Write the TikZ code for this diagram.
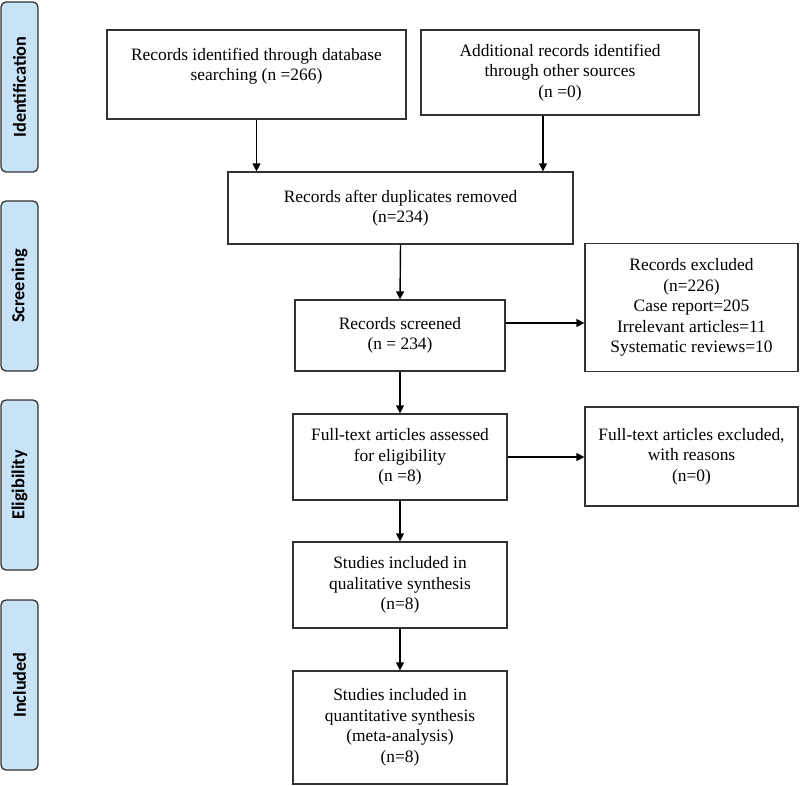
\documentclass[tikz,border=0pt]{standalone}
\usepackage{fontspec}
\setmainfont{Liberation Serif}
\newfontfamily\stagefont{Carlito}
\usetikzlibrary{arrows.meta,positioning,calc}
\definecolor{stageblue}{RGB}{200,226,246}
\definecolor{edgegray}{RGB}{50,50,50}

\begin{document}
\begin{tikzpicture}[x=1pt, y=-1pt,
  box/.style={draw=edgegray, line width=1.3pt, align=center, inner sep=2pt, font=\fontsize{17.4}{20.5}\selectfont},
  stage/.style={draw=edgegray, fill=stageblue, line width=1.3pt, rounded corners=5pt, minimum width=170pt, minimum height=37pt, rotate=90, font=\stagefont\bfseries\fontsize{18.3}{20}\selectfont},
  arr/.style={draw=black, line width=1.4pt, -{Triangle[length=8pt,width=8pt]}}]

\useasboundingbox (0,0) rectangle (800,786);

% stages on the left
\foreach \name/\y/\txt in {ident/87/Identification, screening/286/Screening, elig/485/Eligibility, incl/685/Included}
  \node[stage] (\name) at (19.5,\y) {\txt};

% identification
\node[box, minimum width=299pt, minimum height=89pt] (db) at (256.5,74.5) {Records identified through database\\searching (n =266)\\\mbox{}};
\node[box, minimum width=278pt, minimum height=85pt] (other) at (560,72.5) {Additional records identified\\through other sources\\(n =0)};

% screening
\node[box, minimum width=345pt, minimum height=72pt] (dup) at (400.5,208) {Records after duplicates removed\\(n=234)};
\node[box, minimum width=210pt, minimum height=71pt] (screen) at (400,335.5) {Records screened\\(n = 234)};
\node[box, minimum width=213pt, minimum height=128pt] (excl) at (691.5,307.5) {Records excluded\\(n=226)\\Case report=205\\Irrelevant articles=11\\Systematic reviews=10};

% eligibility
\node[box, minimum width=214pt, minimum height=86pt] (full) at (400,457) {Full-text articles assessed\\for eligibility\\(n =8)};
\node[box, minimum width=213pt, minimum height=99pt] (fullexcl) at (691.5,456.5) {Full-text articles excluded,\\with reasons\\(n=0)};

% included
\node[box, minimum width=214pt, minimum height=86pt] (qual) at (400,585) {Studies included in\\qualitative synthesis\\(n=8)};
\node[box, minimum width=214pt, minimum height=113pt] (quant) at (400,727.5) {Studies included in\\quantitative synthesis\\(meta-analysis)\\(n=8)};

\draw[arr] (db.south) -- (db.south |- dup.north);
\draw[arr] ([xshift=-17pt]other.south) -- ([xshift=-17pt]other.south |- dup.north);
\draw[arr] (dup.south) -- (screen.north);
\draw[arr] ([yshift=12.5pt]screen.east) -- ([yshift=12.5pt]screen.east -| excl.west);
\draw[arr] (screen.south) -- (full.north);
\draw[arr] (full.east) -- (full.east -| fullexcl.west);
\draw[arr] (full.south) -- (qual.north);
\draw[arr] (qual.south) -- (quant.north);
\end{tikzpicture}
\end{document}
